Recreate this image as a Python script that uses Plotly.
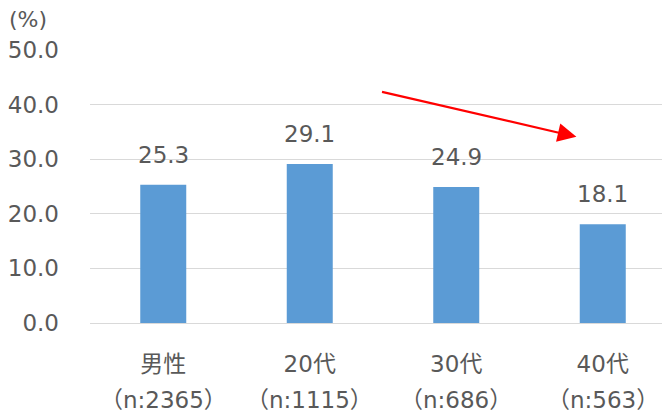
import plotly.graph_objects as go

# ========== Data ==========
categories = ["男性", "20代", "30代", "40代"]
sample_sizes = ["（n:2365）", "（n:1115）", "（n:686）", "（n:563）"]
values = [25.3, 29.1, 24.9, 18.1]

FONT = "DejaVu Sans, Noto Sans CJK JP, sans-serif"
GRAY = "#595959"
SIZE = 23

fig = go.Figure(
    go.Bar(
        x=categories,
        y=values,
        marker=dict(color="#5B9BD5", line=dict(width=0)),
        hoverinfo="skip",
    )
)

# value labels above bars
for cat, val in zip(categories, values):
    fig.add_annotation(
        x=cat, y=val, xref="x", yref="y",
        text=f"{val:.1f}", showarrow=False,
        yanchor="bottom", yshift=15,
        font=dict(family=FONT, size=SIZE, color=GRAY),
    )

# second line of the category labels
for cat, n in zip(categories, sample_sizes):
    fig.add_annotation(
        x=cat, y=0, xref="x", yref="paper",
        text=n, showarrow=False,
        yanchor="middle", yshift=-77,
        font=dict(family=FONT, size=SIZE, color=GRAY),
    )

# unit label
fig.add_annotation(
    x=0, y=1, xref="paper", yref="paper",
    xanchor="left", yanchor="middle",
    xshift=-83, yshift=31,
    text="(%)", showarrow=False,
    font=dict(family=FONT, size=22, color=GRAY),
)

# trend arrow
fig.add_annotation(
    x=2.82, y=34.1, ax=1.483, ay=42.4,
    xref="x", yref="y", axref="x", ayref="y",
    text="", showarrow=True,
    arrowhead=2, arrowsize=1.7, arrowwidth=2.2, arrowcolor="#FF0000",
)

# page body has an 8px margin, so the figure is drawn 8px smaller
fig.update_layout(
    width=662, height=410,
    margin=dict(l=82, r=0, t=42, b=95),
    plot_bgcolor="white", paper_bgcolor="white",
    bargap=0.686,
    showlegend=False,
    font=dict(family=FONT, size=SIZE, color=GRAY),
)
# the original plot area runs a little past the right edge of the picture
fig.update_xaxes(
    range=[-0.5, 3.459],
    showgrid=False, showline=False, ticks="",
    ticklabelstandoff=25,
    tickfont=dict(family=FONT, size=SIZE, color=GRAY),
)
fig.update_yaxes(
    range=[0, 50], dtick=10, tickformat=".1f",
    showgrid=True, gridcolor="#D9D9D9", gridwidth=1,
    zeroline=True, zerolinecolor="#D9D9D9", zerolinewidth=1,
    showline=False, ticks="",
    ticklabelstandoff=30,
    tickfont=dict(family=FONT, size=SIZE, color=GRAY),
)

fig.write_html("out.html")
